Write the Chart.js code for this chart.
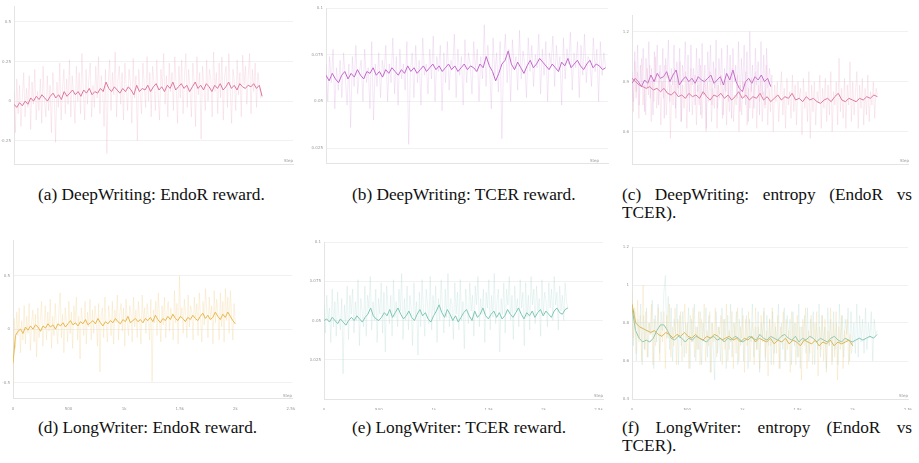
<!DOCTYPE html>
<html>
<head>
<meta charset="utf-8">
<script src="https://cdn.jsdelivr.net/npm/chart.js@4.4.1/dist/chart.umd.min.js"></script>
<style>
  html, body { margin: 0; padding: 0; background: #fff; }
  #page { position: relative; width: 919px; height: 463px; overflow: hidden; }
  canvas { position: absolute; }
  .cap { position: absolute; font-family: "Liberation Serif", "Times New Roman", serif; font-size: 17.3px; line-height: 18px; color: #111; white-space: nowrap; }
  .cap.just { white-space: normal; text-align: justify; width: 290px; }
  .step { position: absolute; font-family: "DejaVu Sans", sans-serif; font-size: 4px; color: #999; }
</style>
</head>
<body>
<div id="page">
  <canvas id="ca" width="300" height="170" style="left:0px;top:0px"></canvas>
  <canvas id="cb" width="300" height="170" style="left:310px;top:0px"></canvas>
  <canvas id="cc" width="304" height="170" style="left:615px;top:0px"></canvas>
  <canvas id="cd" width="300" height="180" style="left:0px;top:230px"></canvas>
  <canvas id="ce" width="300" height="180" style="left:310px;top:230px"></canvas>
  <canvas id="cf" width="304" height="180" style="left:615px;top:230px"></canvas>

  <span class="step" style="left:284px;top:158px">Step</span>
  <span class="step" style="left:590px;top:158px">Step</span>
  <span class="step" style="left:900px;top:158px">Step</span>
  <span class="step" style="left:283px;top:393px">Step</span>
  <span class="step" style="left:594px;top:393px">Step</span>
  <span class="step" style="left:899px;top:393px">Step</span>

  <div class="cap" style="left:38px;top:186px">(a) DeepWriting: EndoR reward.</div>
  <div class="cap" style="left:352px;top:186px">(b) DeepWriting: TCER reward.</div>
  <div class="cap just" style="left:622px;top:186px">(c) DeepWriting: entropy (EndoR vs TCER).</div>
  <div class="cap" style="left:38px;top:419px">(d) LongWriter: EndoR reward.</div>
  <div class="cap" style="left:352px;top:419px">(e) LongWriter: TCER reward.</div>
  <div class="cap just" style="left:622px;top:419px">(f) LongWriter: entropy (EndoR vs TCER).</div>
</div>

<script>
// ---- dados ----

// (a) DeepWriting, recompensa EndoR (última etapa ~3130)
const aLastStep = 3130
const aRaw = [
  0.06, -0.2, 0.14, -0.08, 0.1, -0.16, 0.02, 0.18, -0.1, 0.08,
  -0.04, 0.16, -0.18, 0.12, -0.02, 0.2, -0.12, 0.06, -0.06, 0.14,
  -0.14, 0.22, 0.0, -0.1, 0.16, -0.06, 0.1, -0.2, 0.18, 0.04,
  -0.26, 0.12, -0.04, 0.24, -0.12, 0.08, 0.2, -0.08, 0.14, -0.02,
  0.26, -0.1, 0.16, 0.04, -0.14, 0.22, 0.0, 0.18, -0.08, 0.3,
  0.06, -0.12, 0.2, -0.02, 0.14, 0.24, -0.1, 0.1, -0.04, 0.22,
  0.02, 0.28, -0.08, 0.16, 0.06, -0.16, 0.2, -0.33, 0.12, 0.26,
  -0.06, 0.18, 0.04, 0.31, -0.1, 0.14, 0.22, -0.02, 0.18, -0.12,
  0.24, 0.08, -0.06, 0.2, 0.12, -0.14, 0.27, 0.02, 0.16, -0.25,
  0.2, 0.06, -0.08, 0.24, 0.1, -0.04, 0.28, 0.0, 0.18, -0.1,
  0.22, 0.12, -0.06, 0.26, 0.04, -0.12, 0.2, 0.08, 0.3, -0.02,
  0.16, -0.1, 0.24, 0.06, 0.18, -0.06, 0.28, 0.1, -0.14, 0.22,
  0.02, 0.26, -0.08, 0.16, 0.3, -0.04, 0.2, 0.08, -0.1, 0.24,
  0.12, -0.16, 0.28, 0.04, 0.18, -0.24, 0.22, 0.1, -0.06, 0.26,
  0.0, 0.2, 0.14, -0.1, 0.31, 0.06, 0.18, -0.08, 0.24, 0.02,
  0.28, -0.12, 0.16, 0.22, -0.04, 0.3, 0.08, -0.14, 0.2, 0.12,
  -0.06, 0.26, 0.04, 0.18, -0.1, 0.29, 0.1, 0.22, -0.02, 0.16,
  0.3, -0.08, 0.2, 0.06, 0.24, -0.04, 0.18, 0.1, 0.02, 0.03
]
const aSmooth = [
  -0.02, -0.04, -0.01, -0.03, 0.0, -0.02, 0.02, 0.0, 0.03, 0.01,
  0.04, 0.02, 0.0, 0.03, 0.05, 0.02, 0.04, 0.01, 0.06, 0.03,
  0.05, 0.07, 0.04, 0.06, 0.03, 0.07, 0.05, 0.08, 0.04, 0.06,
  0.05, 0.08, 0.06, 0.12, 0.08, 0.06, 0.09, 0.07, 0.05, 0.08,
  0.06, 0.09, 0.07, 0.04, 0.1, 0.06, 0.08, 0.07, 0.1, 0.06,
  0.09, 0.11, 0.07, 0.09, 0.06, 0.1, 0.08, 0.12, 0.07, 0.09,
  0.11, 0.08, 0.1, 0.06, 0.09, 0.12, 0.08, 0.1, 0.07, 0.11,
  0.09, 0.06, 0.1, 0.08, 0.11, 0.07, 0.09, 0.12, 0.08, 0.1,
  0.07, 0.11, 0.09, 0.08, 0.1, 0.09, 0.11, 0.08, 0.1, 0.03
]

// (b) DeepWriting, recompensa TCER (última etapa ~1770)
const bLastStep = 1770
const bRaw = [
  0.07, 0.05, 0.074, 0.06, 0.078, 0.046, 0.068, 0.056, 0.072, 0.052,
  0.076, 0.062, 0.048, 0.07, 0.036, 0.074, 0.058, 0.08, 0.054, 0.066,
  0.072, 0.05, 0.078, 0.06, 0.068, 0.046, 0.082, 0.04, 0.07, 0.058,
  0.076, 0.052, 0.072, 0.064, 0.08, 0.05, 0.07, 0.06, 0.084, 0.054,
  0.074, 0.048, 0.078, 0.062, 0.07, 0.056, 0.082, 0.027, 0.066, 0.076,
  0.052, 0.08, 0.06, 0.072, 0.048, 0.084, 0.064, 0.07, 0.054, 0.078,
  0.062, 0.085, 0.05, 0.074, 0.066, 0.08, 0.045, 0.076, 0.06, 0.082,
  0.056, 0.072, 0.068, 0.086, 0.052, 0.078, 0.064, 0.074, 0.048, 0.083,
  0.06, 0.076, 0.07, 0.054, 0.082, 0.066, 0.078, 0.05, 0.074, 0.062,
  0.091, 0.058, 0.08, 0.068, 0.046, 0.084, 0.064, 0.076, 0.055, 0.082,
  0.03, 0.072, 0.086, 0.06, 0.078, 0.05, 0.083, 0.068, 0.074, 0.056,
  0.088, 0.062, 0.077, 0.07, 0.052, 0.084, 0.066, 0.08, 0.058, 0.075,
  0.068, 0.086, 0.054, 0.078, 0.064, 0.082, 0.05, 0.076, 0.07, 0.085,
  0.058, 0.08, 0.066, 0.074, 0.048, 0.084, 0.062, 0.078, 0.07, 0.087,
  0.056, 0.076, 0.068, 0.082, 0.052, 0.08, 0.064, 0.086, 0.06, 0.074,
  0.072, 0.058, 0.084, 0.066, 0.078, 0.05, 0.082, 0.064, 0.076, 0.068
]
const bSmooth = [
  0.064, 0.061, 0.065, 0.062, 0.06, 0.064, 0.066, 0.062, 0.065, 0.063,
  0.067, 0.064, 0.062, 0.066, 0.065, 0.068, 0.064, 0.066, 0.063, 0.067,
  0.065, 0.068, 0.066, 0.064, 0.067, 0.065, 0.069, 0.066, 0.068, 0.065,
  0.067, 0.069, 0.066, 0.068, 0.07, 0.067, 0.069, 0.066, 0.068, 0.07,
  0.067, 0.069, 0.066, 0.068, 0.07, 0.067, 0.069, 0.068, 0.066, 0.07,
  0.068, 0.074, 0.069, 0.066, 0.061, 0.065, 0.07, 0.072, 0.077, 0.07,
  0.067, 0.071, 0.068, 0.065, 0.069, 0.072, 0.068, 0.07, 0.073, 0.071,
  0.069, 0.067, 0.07, 0.068, 0.066, 0.071, 0.069, 0.073, 0.068, 0.07,
  0.072, 0.069, 0.067, 0.07, 0.072, 0.068, 0.07, 0.069, 0.067, 0.068
]

// (c) DeepWriting, entropia: EndoR (rosa) vs TCER (roxo)
const cEndoLastStep = 3130
const cEndoRaw = [
  0.92, 0.72, 1.02, 0.8, 0.96, 0.68, 0.9, 1.04, 0.76, 0.88,
  0.7, 0.98, 0.82, 1.0, 0.66, 0.92, 0.78, 1.05, 0.74, 0.86,
  0.96, 0.64, 0.9, 0.8, 1.0, 0.7, 0.86, 0.94, 0.56, 0.88,
  0.76, 0.98, 0.68, 0.92, 0.82, 1.02, 0.66, 0.88, 0.74, 0.96,
  0.62, 0.9, 0.8, 0.98, 0.7, 0.86, 0.94, 0.64, 0.88, 0.76,
  1.0, 0.68, 0.84, 0.92, 0.6, 0.9, 0.78, 0.96, 0.66, 0.86,
  0.74, 0.98, 0.62, 0.88, 0.8, 0.94, 0.68, 0.84, 0.9, 0.64,
  0.92, 0.72, 0.86, 0.98, 0.66, 0.82, 0.76, 0.94, 0.6, 0.88,
  0.7, 0.9, 0.8, 0.96, 0.64, 0.86, 0.74, 0.92, 0.68, 0.84,
  0.96, 0.62, 0.88, 0.78, 0.92, 0.66, 0.84, 0.74, 1.0, 0.64,
  0.86, 0.72, 0.94, 0.6, 0.88, 0.78, 0.9, 0.66, 0.82, 0.96,
  0.7, 0.86, 0.62, 0.92, 0.76, 0.84, 0.68, 0.94, 0.72, 0.88,
  0.64, 0.9, 0.8, 0.86, 0.58, 0.92, 0.74, 0.84, 0.66, 0.96,
  0.56, 0.88, 0.72, 0.9, 0.64, 0.84, 0.78, 0.94, 0.62, 0.86,
  0.74, 0.92, 0.66, 0.88, 0.7, 0.96, 0.6, 0.84, 0.76, 0.9,
  0.64, 1.04, 0.72, 0.86, 0.68, 0.92, 0.62, 0.88, 0.76, 1.02,
  0.66, 0.9, 0.7, 0.84, 0.96, 0.62, 0.88, 0.74, 0.92, 0.64,
  0.86, 0.7, 0.94, 0.66, 0.84, 0.76, 0.9, 0.68, 0.86, 0.82
]
const cEndoSmooth = [
  0.92, 0.9, 0.88, 0.87, 0.86, 0.87, 0.85, 0.86, 0.84, 0.86,
  0.83, 0.82, 0.84, 0.81, 0.82, 0.8, 0.83, 0.81, 0.82, 0.8,
  0.84, 0.81, 0.79, 0.82, 0.81, 0.83, 0.8, 0.82, 0.79, 0.81,
  0.84, 0.8, 0.82, 0.79, 0.81, 0.8, 0.83, 0.79, 0.81, 0.78,
  0.8, 0.82, 0.79, 0.81, 0.8, 0.83, 0.79, 0.8, 0.78, 0.81,
  0.79, 0.8, 0.78, 0.77, 0.79, 0.8, 0.78, 0.81, 0.83, 0.79,
  0.78, 0.8, 0.79, 0.78, 0.8, 0.79, 0.81, 0.8, 0.82, 0.81
]
const cTcerLastStep = 1770
const cTcerRaw = [
  0.96, 0.78, 1.08, 0.84, 1.12, 0.76, 1.0, 0.88, 1.1, 0.72,
  1.04, 0.86, 1.14, 0.8, 0.98, 0.7, 1.08, 0.9, 1.12, 0.76,
  1.0, 0.84, 1.1, 0.68, 1.04, 0.92, 1.15, 0.78, 0.98, 0.88,
  1.12, 0.74, 1.02, 0.86, 1.1, 0.66, 1.0, 0.9, 1.14, 0.8,
  1.06, 0.72, 1.12, 0.88, 0.98, 0.76, 1.1, 0.84, 1.04, 0.7,
  1.13, 0.82, 1.0, 0.62, 1.08, 0.9, 1.12, 0.76, 1.02, 0.86,
  1.15, 0.74, 1.04, 0.88, 1.1, 0.7, 0.98, 0.84, 1.12, 0.78,
  1.06, 0.68, 1.1, 0.9, 1.0, 0.8, 1.14, 0.72, 1.04, 0.86,
  1.12, 0.76, 1.08, 0.66, 1.2, 0.84, 1.0, 0.74, 1.1, 0.88,
  1.02, 0.7, 1.14, 0.82, 1.06, 0.76, 1.1, 0.86, 0.98, 0.9
]
const cTcerSmooth = [
  0.89, 0.92, 0.9, 0.87, 0.91, 0.89, 0.94, 0.9, 0.95, 0.92,
  0.93, 0.96, 0.9, 0.94, 0.97, 0.88, 0.91, 0.93, 0.9, 0.92,
  0.89, 0.93, 0.91, 0.9, 0.92, 0.94, 0.89, 0.91, 0.93, 0.88,
  0.95, 0.91, 0.97, 0.9, 0.86, 0.84, 0.9, 0.92, 0.89, 0.93,
  0.91, 0.94, 0.9, 0.92, 0.87
]

// (d) LongWriter, recompensa EndoR (última etapa ~2000)
const dLastStep = 2000
const dRaw = [
  -0.54, 0.1, -0.18, 0.16, -0.06, 0.2, -0.22, 0.08, -0.1, 0.22,
  -0.14, 0.12, -0.04, 0.24, -0.2, 0.06, 0.18, -0.12, 0.14, -0.26,
  0.2, -0.08, 0.1, 0.26, -0.16, 0.04, 0.22, -0.1, 0.16, -0.02,
  0.28, -0.18, 0.12, -0.06, 0.24, 0.02, -0.14, 0.18, 0.34, -0.08,
  0.14, -0.22, 0.2, 0.06, -0.12, 0.26, -0.04, 0.16, -0.18, 0.22,
  0.04, 0.3, -0.1, 0.12, -0.28, 0.2, 0.08, -0.06, 0.26, -0.14,
  0.16, 0.02, 0.28, -0.1, 0.18, -0.04, 0.22, 0.1, -0.16, 0.24,
  -0.4, 0.14, 0.2, -0.08, 0.3, 0.04, -0.12, 0.22, 0.1, -0.06,
  0.26, -0.14, 0.18, 0.06, 0.32, -0.1, 0.14, 0.24, -0.02, 0.2,
  -0.16, 0.28, 0.08, -0.06, 0.22, 0.14, -0.12, 0.3, 0.02, 0.18,
  -0.08, 0.26, 0.1, -0.14, 0.32, 0.06, 0.2, -0.04, 0.24, 0.12,
  -0.1, 0.28, -0.49, 0.18, 0.06, 0.26, -0.06, 0.34, 0.1, -0.12,
  0.22, 0.04, 0.3, -0.08, 0.16, 0.26, -0.02, 0.2, 0.12, -0.1,
  0.36, 0.06, 0.24, -0.14, 0.5, 0.1, 0.2, -0.04, 0.28, 0.14,
  -0.08, 0.32, 0.02, 0.22, 0.16, -0.1, 0.3, 0.08, 0.24, -0.06,
  0.34, 0.12, -0.12, 0.26, 0.04, 0.38, 0.16, -0.08, 0.3, 0.1,
  0.22, -0.14, 0.36, 0.06, 0.28, 0.14, -0.1, 0.34, 0.02, 0.26,
  -0.12, 0.38, 0.08, 0.3, -0.04, 0.36, 0.12, -0.1, 0.24, 0.05
]
const dSmooth = [
  -0.32, -0.06, -0.02, 0.0, -0.04, 0.02, -0.01, 0.03, 0.0, 0.04,
  0.02, -0.02, 0.03, 0.01, 0.05, 0.02, 0.04, 0.0, 0.05, 0.03,
  0.06, 0.02, 0.05, 0.08, 0.04, 0.06, 0.03, 0.07, 0.05, 0.09,
  0.04, 0.06, 0.08, 0.05, 0.1, 0.06, 0.03, 0.07, 0.05, 0.08,
  0.06, 0.1, 0.07, 0.05, 0.09, 0.07, 0.12, 0.06, 0.08, 0.1,
  0.07, 0.09, 0.06, 0.1, 0.08, 0.11, 0.07, 0.13, 0.09, 0.06,
  0.1, 0.08, 0.12, 0.09, 0.14, 0.1, 0.08, 0.12, 0.1, 0.07,
  0.11, 0.09, 0.13, 0.1, 0.08, 0.12, 0.15, 0.1, 0.13, 0.09,
  0.11, 0.16, 0.12, 0.09, 0.14, 0.11, 0.16, 0.12, 0.08, 0.05
]

// (e) LongWriter, recompensa TCER (última etapa ~2220)
const eLastStep = 2220
const eRaw = [
  0.06, 0.042, 0.066, 0.05, 0.058, 0.036, 0.07, 0.046, 0.062, 0.04,
  0.068, 0.052, 0.044, 0.064, 0.016, 0.06, 0.048, 0.072, 0.038, 0.066,
  0.054, 0.07, 0.042, 0.062, 0.05, 0.076, 0.034, 0.064, 0.056, 0.046,
  0.072, 0.04, 0.066, 0.058, 0.078, 0.044, 0.062, 0.05, 0.07, 0.036,
  0.064, 0.054, 0.074, 0.042, 0.068, 0.03, 0.072, 0.058, 0.048, 0.066,
  0.04, 0.076, 0.052, 0.062, 0.046, 0.07, 0.056, 0.08, 0.038, 0.064,
  0.05, 0.072, 0.044, 0.066, 0.058, 0.034, 0.074, 0.052, 0.062, 0.028,
  0.068, 0.046, 0.076, 0.056, 0.04, 0.07, 0.06, 0.048, 0.078, 0.044,
  0.066, 0.054, 0.072, 0.036, 0.064, 0.05, 0.076, 0.058, 0.042, 0.07,
  0.052, 0.08, 0.046, 0.064, 0.06, 0.038, 0.074, 0.054, 0.068, 0.044,
  0.076, 0.05, 0.062, 0.032, 0.07, 0.058, 0.048, 0.074, 0.056, 0.066,
  0.04, 0.072, 0.06, 0.078, 0.046, 0.064, 0.054, 0.07, 0.036, 0.068,
  0.058, 0.076, 0.044, 0.066, 0.052, 0.08, 0.048, 0.062, 0.07, 0.03,
  0.064, 0.054, 0.074, 0.042, 0.07, 0.06, 0.078, 0.05, 0.066, 0.038,
  0.072, 0.056, 0.064, 0.046, 0.076, 0.058, 0.068, 0.034, 0.074, 0.052,
  0.066, 0.044, 0.078, 0.06, 0.07, 0.048, 0.072, 0.056, 0.064, 0.04,
  0.076, 0.054, 0.068, 0.062, 0.046, 0.074, 0.058, 0.07, 0.05, 0.078,
  0.06, 0.068, 0.044, 0.072, 0.056, 0.066, 0.05, 0.074, 0.062, 0.058
]
const eSmooth = [
  0.05, 0.051, 0.049, 0.052, 0.05, 0.048, 0.051, 0.049, 0.047, 0.05,
  0.052, 0.05, 0.053, 0.051, 0.049, 0.052, 0.054, 0.058, 0.053, 0.051,
  0.05, 0.052, 0.055, 0.053, 0.057, 0.052, 0.055, 0.058, 0.054, 0.051,
  0.053, 0.056, 0.052, 0.05, 0.054, 0.057, 0.053, 0.055, 0.051, 0.049,
  0.053, 0.056, 0.06, 0.055, 0.052, 0.057, 0.054, 0.05, 0.053, 0.049,
  0.052, 0.055, 0.057, 0.053, 0.05, 0.056, 0.052, 0.054, 0.058, 0.053,
  0.051, 0.054, 0.056, 0.052, 0.055, 0.051, 0.053, 0.057, 0.054, 0.052,
  0.055, 0.058, 0.054, 0.051, 0.055, 0.053, 0.056, 0.052, 0.055, 0.057,
  0.053, 0.056, 0.054, 0.052, 0.056, 0.058, 0.055, 0.054, 0.057, 0.058
]

// (f) LongWriter, entropia: EndoR (dourado) vs TCER (verde-água)
const fEndoLastStep = 2000
const fEndoRaw = [
  0.96, 0.72, 0.88, 0.64, 0.92, 0.7, 0.84, 0.6, 1.0, 0.66,
  0.86, 0.62, 0.8, 0.74, 0.9, 0.58, 0.82, 0.68, 0.78, 0.88,
  0.6, 0.8, 0.7, 0.86, 0.56, 0.84, 0.72, 0.9, 0.62, 0.78,
  0.68, 0.88, 0.58, 0.82, 0.74, 0.86, 0.6, 0.76, 0.9, 0.64,
  0.8, 0.56, 0.84, 0.7, 0.88, 0.62, 0.78, 0.66, 0.86, 0.58,
  0.82, 0.72, 0.9, 0.6, 0.76, 0.68, 0.86, 0.54, 0.8, 0.7,
  0.88, 0.62, 0.78, 0.74, 0.84, 0.58, 0.82, 0.66, 0.9, 0.6,
  0.76, 0.7, 0.86, 0.56, 0.8, 0.64, 0.88, 0.6, 0.78, 0.72,
  0.84, 0.54, 0.82, 0.68, 0.86, 0.6, 0.74, 0.8, 0.58, 0.88,
  0.66, 0.78, 0.56, 0.84, 0.7, 0.86, 0.62, 0.76, 0.52, 0.82,
  0.68, 0.88, 0.58, 0.8, 0.64, 0.84, 0.56, 0.78, 0.72, 0.86,
  0.6, 0.82, 0.66, 0.76, 0.54, 0.86, 0.7, 0.8, 0.58, 0.84,
  0.62, 0.78, 0.5, 0.82, 0.68, 0.88, 0.56, 0.76, 0.64, 0.84,
  0.58, 0.8, 0.7, 0.86, 0.52, 0.78, 0.66, 0.84, 0.6, 0.82,
  0.54, 0.76, 0.68, 0.88, 0.58, 0.8, 0.62, 0.86, 0.5, 0.78,
  0.66, 0.84, 0.56, 0.76, 0.7, 0.82, 0.58, 0.74, 0.64, 0.7
]
const fEndoSmooth = [
  0.9, 0.8, 0.78, 0.77, 0.76, 0.75, 0.76, 0.74, 0.73, 0.75,
  0.74, 0.72, 0.74, 0.73, 0.75, 0.73, 0.72, 0.74, 0.72, 0.71,
  0.73, 0.72, 0.74, 0.73, 0.71, 0.72, 0.73, 0.71, 0.72, 0.7,
  0.72, 0.71, 0.73, 0.7, 0.72, 0.71, 0.7, 0.72, 0.69, 0.71,
  0.7, 0.72, 0.69, 0.71, 0.7, 0.68, 0.71, 0.7, 0.69, 0.71,
  0.68, 0.7, 0.69, 0.71, 0.68, 0.7, 0.69, 0.7, 0.71, 0.68
]
const fTcerLastStep = 2220
const fTcerRaw = [
  0.92, 0.68, 0.86, 0.6, 0.82, 0.72, 0.9, 0.58, 0.84, 0.66,
  0.88, 0.62, 0.8, 0.74, 0.92, 0.56, 0.84, 0.7, 0.9, 0.64,
  0.86, 0.76, 0.96, 1.05, 0.72, 0.94, 0.66, 0.88, 0.6, 0.82,
  0.74, 0.9, 0.58, 0.84, 0.68, 0.86, 0.62, 0.8, 0.72, 0.88,
  0.56, 0.82, 0.7, 0.9, 0.6, 0.78, 0.66, 0.86, 0.58, 0.8,
  0.72, 0.88, 0.62, 0.84, 0.54, 0.8, 0.68, 0.5, 0.86, 0.64,
  0.78, 0.6, 0.88, 0.7, 0.82, 0.56, 0.84, 0.66, 0.9, 0.62,
  0.8, 0.72, 0.86, 0.58, 0.82, 0.68, 0.88, 0.6, 0.76, 0.84,
  0.56, 0.82, 0.7, 0.9, 0.62, 0.78, 0.66, 0.86, 0.54, 0.8,
  0.72, 0.88, 0.6, 0.84, 0.68, 0.82, 0.58, 0.86, 0.64, 0.78,
  0.7, 0.9, 0.56, 0.8, 0.66, 0.88, 0.6, 0.84, 0.72, 0.82,
  0.58, 0.86, 0.68, 0.8, 0.62, 0.9, 0.56, 0.78, 0.7, 0.84,
  0.64, 0.88, 0.6, 0.82, 0.72, 0.86, 0.58, 0.8, 0.66, 0.9,
  0.62, 0.84, 0.7, 0.78, 0.56, 0.88, 0.68, 0.82, 0.6, 0.86,
  0.66, 0.8, 0.58, 0.9, 0.7, 0.84, 0.62, 0.82, 0.74, 0.88,
  0.6, 0.86, 0.68, 0.8, 0.64, 0.9, 0.62, 0.84, 0.7, 0.82,
  0.64, 0.88, 0.66, 0.8, 0.72, 0.86, 0.6, 0.82, 0.74, 0.76
]
const fTcerSmooth = [
  0.88, 0.76, 0.72, 0.7, 0.71, 0.7, 0.72, 0.76, 0.79, 0.79,
  0.76, 0.72, 0.71, 0.73, 0.72, 0.7, 0.72, 0.71, 0.73, 0.72,
  0.71, 0.7, 0.72, 0.73, 0.71, 0.72, 0.7, 0.72, 0.71, 0.73,
  0.72, 0.7, 0.71, 0.73, 0.72, 0.71, 0.74, 0.72, 0.71, 0.73,
  0.72, 0.71, 0.73, 0.74, 0.72, 0.71, 0.73, 0.7, 0.72, 0.71,
  0.73, 0.72, 0.7, 0.72, 0.71, 0.7, 0.72, 0.73, 0.71, 0.7,
  0.72, 0.71, 0.7, 0.71, 0.72, 0.71, 0.72, 0.73, 0.72, 0.74
]

// rótulos dos eixos
const xTicks3k = [0, 1000, 2000, 3000]
const xLabels3k = ['0', '1k', '2k', '3k']
const xTicksB = [0, 400, 800, 1200, 1600]
const xLabelsB = ['0', '400', '800', '1.2k', '1.6k']
const xTicks25 = [0, 500, 1000, 1500, 2000, 2500]
const xLabels25 = ['0', '500', '1k', '1.5k', '2k', '2.5k']

const yTicksA = [0.5, 0.25, 0, -0.25]
const yLabelsA = ['0.5', '0.25', '0', '-0.25']
const yTicksB = [0.1, 0.075, 0.05, 0.025]
const yLabelsB = ['0.1', '0.075', '0.05', '0.025']
const yTicksC = [1.2, 0.9, 0.6]
const yLabelsC = ['1.2', '0.9', '0.6']
const yTicksD = [0.5, 0, -0.5]
const yLabelsD = ['0.5', '0', '-0.5']
const yTicksE = [0.1, 0.075, 0.05, 0.025]
const yLabelsE = ['0.1', '0.075', '0.05', '0.025']
const yTicksF = [1.2, 1, 0.8, 0.6, 0.4]
const yLabelsF = ['1.2', '1', '0.8', '0.6', '0.4']

// ---- montagem ----

// passos igualmente espaçados entre 0 e a última etapa
function toPoints(values, lastStep) {
  const n = values.length
  return values.map((v, i) => ({ x: (i * lastStep) / (n - 1), y: v }))
}

function rawSet(values, lastStep, color) {
  return {
    data: toPoints(values, lastStep),
    borderColor: color,
    borderWidth: 0.8,
    pointRadius: 0,
    tension: 0
  }
}

function smoothSet(values, lastStep, color) {
  return {
    data: toPoints(values, lastStep),
    borderColor: color,
    borderWidth: 1,
    pointRadius: 0,
    tension: 0
  }
}

function makeChart(id, datasets, box, x, y) {
  const ctx = document.getElementById(id).getContext('2d')
  return new Chart(ctx, {
    type: 'line',
    data: { datasets: datasets },
    options: {
      responsive: false,
      animation: false,
      devicePixelRatio: 1,
      layout: { padding: { top: box.top, right: box.right, left: 0, bottom: 0 } },
      plugins: { legend: { display: false }, tooltip: { enabled: false } },
      scales: {
        x: {
          type: 'linear',
          min: 0,
          max: x.max,
          grid: { display: false },
          border: { color: '#e4e4e4' },
          ticks: {
            autoSkip: false,
            maxRotation: 0,
            padding: 1,
            color: '#9a9a9a',
            font: { size: 4, family: 'DejaVu Sans' },
            callback: (v, i) => x.labels[i]
          },
          afterBuildTicks: s => { s.ticks = x.ticks.map(v => ({ value: v })) },
          afterFit: s => { s.height = box.bottom }
        },
        y: {
          type: 'linear',
          min: y.min,
          max: y.max,
          grid: { color: '#f1f1f1', drawTicks: false },
          border: { color: '#e4e4e4' },
          ticks: {
            autoSkip: false,
            padding: 3,
            color: '#9a9a9a',
            font: { size: 4, family: 'DejaVu Sans' },
            callback: (v, i) => y.labels[i]
          },
          afterBuildTicks: s => { s.ticks = y.ticks.map(v => ({ value: v })) },
          afterFit: s => { s.width = box.left }
        }
      }
    }
  })
}

const pinkRaw = 'rgba(236, 170, 196, 0.3)'
const pinkLine = 'rgb(218, 112, 152)'
const purpleRaw = 'rgba(214, 160, 222, 0.3)'
const purpleLine = 'rgb(192, 98, 200)'
const goldRaw = 'rgba(242, 206, 140, 0.35)'
const goldLine = 'rgb(230, 178, 66)'
const tealRaw = 'rgba(168, 214, 204, 0.3)'
const tealLine = 'rgb(122, 196, 176)'

makeChart('ca',
  [rawSet(aRaw, aLastStep, pinkRaw), smoothSet(aSmooth, aLastStep, pinkLine)],
  { left: 14, top: 6, right: 7, bottom: 6 },
  { max: 3520, ticks: xTicks3k, labels: xLabels3k },
  { min: -0.397, max: 0.6, ticks: yTicksA, labels: yLabelsA })

makeChart('cb',
  [rawSet(bRaw, bLastStep, purpleRaw), smoothSet(bSmooth, bLastStep, purpleLine)],
  { left: 16, top: 8, right: 2, bottom: 7 },
  { max: 1785, ticks: xTicksB, labels: xLabelsB },
  { min: 0.017, max: 0.1, ticks: yTicksB, labels: yLabelsB })

makeChart('cc',
  [rawSet(cEndoRaw, cEndoLastStep, pinkRaw), rawSet(cTcerRaw, cTcerLastStep, purpleRaw),
   smoothSet(cEndoSmooth, cEndoLastStep, pinkLine), smoothSet(cTcerSmooth, cTcerLastStep, purpleLine)],
  { left: 17, top: 15, right: 11, bottom: 6 },
  { max: 3520, ticks: xTicks3k, labels: xLabels3k },
  { min: 0.406, max: 1.3, ticks: yTicksC, labels: yLabelsC })

makeChart('cd',
  [rawSet(dRaw, dLastStep, goldRaw), smoothSet(dSmooth, dLastStep, goldLine)],
  { left: 13, top: 10, right: 8, bottom: 12 },
  { max: 2510, ticks: xTicks25, labels: xLabels25 },
  { min: -0.645, max: 0.835, ticks: yTicksD, labels: yLabelsD })

makeChart('ce',
  [rawSet(eRaw, eLastStep, tealRaw), smoothSet(eSmooth, eLastStep, tealLine)],
  { left: 14, top: 12, right: 7, bottom: 11 },
  { max: 2540, ticks: xTicks25, labels: xLabels25 },
  { min: 0.0, max: 0.1, ticks: yTicksE, labels: yLabelsE })

makeChart('cf',
  [rawSet(fEndoRaw, fEndoLastStep, goldRaw), rawSet(fTcerRaw, fTcerLastStep, tealRaw),
   smoothSet(fEndoSmooth, fEndoLastStep, 'rgb(214, 172, 58)'), smoothSet(fTcerSmooth, fTcerLastStep, 'rgb(128, 194, 178)')],
  { left: 17, top: 17, right: 11, bottom: 11 },
  { max: 2500, ticks: xTicks25, labels: xLabels25 },
  { min: 0.4, max: 1.2, ticks: yTicksF, labels: yLabelsF })
</script>
</body>
</html>
